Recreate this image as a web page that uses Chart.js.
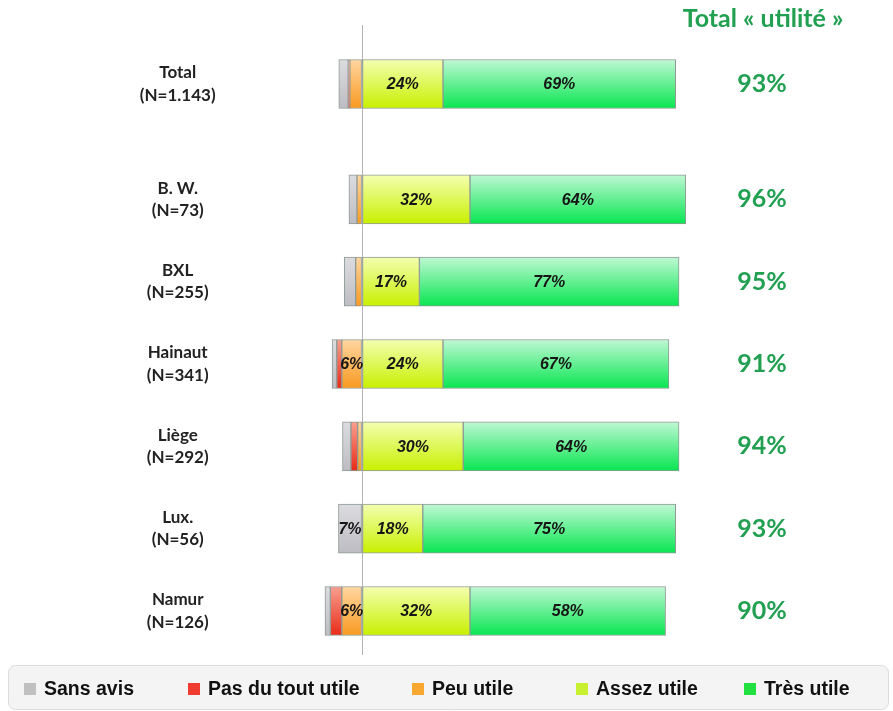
<!DOCTYPE html>
<html>
<head>
<meta charset="utf-8">
<script src="https://cdn.jsdelivr.net/npm/chart.js@4"></script>
<style>
  html, body { margin: 0; padding: 0; background: #ffffff; }
  #wrap { width: 893px; height: 711px; }
</style>
</head>
<body>
<div id="wrap"><canvas id="chart" width="893" height="711"></canvas></div>
<script>
// Regions and sample sizes
const categories  = ['Total', 'B. W.', 'BXL', 'Hainaut', 'Liège', 'Lux.', 'Namur'];
const sampleSizes = ['1.143', '73', '255', '341', '292', '56', '126'];

// Answer shares (%), negative side drawn left of the zero line
const sansAvis   = [2.8, 2.4, 3.4, 1.4, 2.5, 7, 1.6];
const pasDuTout  = [0.5, 0,   0,   1.5, 2.0, 0, 3.4];
const peuUtile   = [3.6, 1.5, 1.9, 6,   1.3, 0, 6];
const assezUtile = [24, 32, 17, 24, 30, 18, 32];
const tresUtile  = [69, 64, 77, 67, 64, 75, 58];

// "Total utilité" column
const totalUtilite = [93, 96, 95, 91, 94, 93, 90];

// Row positions on the vertical axis: the overall row sits apart from the regions
const rowPos = categories.map((_, i) => (i === 0 ? 0 : i + 0.4));

const BAR = 49;
const GREEN_TEXT = '#22a052';

function barGradient(top, bottom) {
  return (ctx) => {
    const chart = ctx.chart;
    if (!chart.chartArea || ctx.type !== 'data') return bottom;
    const cy = chart.scales.y.getPixelForValue(rowPos[ctx.dataIndex]);
    const g = chart.ctx.createLinearGradient(0, cy - BAR / 2, 0, cy + BAR / 2);
    g.addColorStop(0, top);
    g.addColorStop(1, bottom);
    return g;
  };
}

const series = [
  // stacking order: nearest to zero first
  { label: 'Peu utile',         values: peuUtile,   sign: -1, top: '#ffd6a0', bottom: '#f89a20', key: '#f8a830' },
  { label: 'Pas du tout utile', values: pasDuTout,  sign: -1, top: '#f8a090', bottom: '#e82a18', key: '#f03c30' },
  { label: 'Sans avis',         values: sansAvis,   sign: -1, top: '#dcdce0', bottom: '#bcbcc2', key: '#c0c0c0' },
  { label: 'Assez utile',       values: assezUtile, sign:  1, top: '#f4ffb0', bottom: '#c8f000', key: '#c8f030' },
  { label: 'Très utile',        values: tresUtile,  sign:  1, top: '#bff8d4', bottom: '#08e650', key: '#22e040' }
];
const legendOrder = ['Sans avis', 'Pas du tout utile', 'Peu utile', 'Assez utile', 'Très utile'];

const datasets = series.map(s => ({
  label: s.label,
  data: s.values.map((v, i) => ({ x: s.sign * v, y: rowPos[i] })),
  backgroundColor: barGradient(s.top, s.bottom),
  borderColor: '#8f9a94',
  borderWidth: 1,
  borderSkipped: false,
  barThickness: BAR,
  keyColor: s.key
}));

// Percent labels inside the larger segments
const segmentLabels = {
  id: 'segmentLabels',
  afterDatasetsDraw(chart) {
    const ctx = chart.ctx;
    ctx.save();
    ctx.font = 'italic bold 16px "Liberation Sans", Arial, sans-serif';
    ctx.fillStyle = '#161616';
    ctx.textAlign = 'center';
    ctx.textBaseline = 'middle';
    chart.data.datasets.forEach((ds, di) => {
      const meta = chart.getDatasetMeta(di);
      meta.data.forEach((bar, i) => {
        const v = Math.abs(ds.data[i].x);
        if (v < 5) return;
        const p = bar.getProps(['x', 'base', 'y'], true);
        ctx.fillText(Math.round(v) + '%', (p.x + p.base) / 2, p.y + 1);
      });
    });
    ctx.restore();
  }
};

// Right-hand "Total « utilité »" column
const totalColumn = {
  id: 'totalColumn',
  afterDraw(chart) {
    const ctx = chart.ctx;
    const colX = 762;
    ctx.save();
    ctx.fillStyle = GREEN_TEXT;
    ctx.textAlign = 'center';
    ctx.textBaseline = 'middle';
    ctx.font = 'bold 25px Lato, "Open Sans", sans-serif';
    ctx.fillText('Total « utilité »', colX + 1, 19);
    ctx.font = 'bold 25px Lato, "Open Sans", sans-serif';
    totalUtilite.forEach((v, i) => {
      ctx.fillText(v + '%', colX, chart.scales.y.getPixelForValue(rowPos[i]));
    });
    ctx.restore();
  }
};

// Legend strip along the bottom
const legendStrip = {
  id: 'legendStrip',
  afterDraw(chart) {
    const ctx = chart.ctx;
    const x0 = 8, y0 = 665, w = 880, h = 44, r = 7;
    ctx.save();
    ctx.beginPath();
    ctx.roundRect(x0 + 0.5, y0 + 0.5, w, h, r);
    ctx.fillStyle = '#f4f4f4';
    ctx.fill();
    ctx.strokeStyle = '#dcdcdc';
    ctx.lineWidth = 1;
    ctx.stroke();
    const markerX = [24, 188, 412, 576, 744];
    const cy = 689;
    ctx.font = 'bold 19.5px "Liberation Sans", Arial, sans-serif';
    ctx.textBaseline = 'middle';
    ctx.textAlign = 'left';
    legendOrder.forEach((name, k) => {
      const ds = chart.data.datasets.find(d => d.label === name);
      ctx.fillStyle = ds.keyColor;
      ctx.fillRect(markerX[k], cy - 6, 12, 12);
      ctx.fillStyle = '#111111';
      ctx.fillText(name, markerX[k] + 20, cy + 1);
    });
    ctx.restore();
  }
};

new Chart(document.getElementById('chart'), {
  type: 'bar',
  data: { datasets },
  options: {
    indexAxis: 'y',
    responsive: false,
    animation: false,
    devicePixelRatio: 1,
    layout: { padding: { top: 25, right: 160, bottom: 56, left: 0 } },
    plugins: {
      legend: { display: false },
      tooltip: { enabled: false }
    },
    scales: {
      x: {
        type: 'linear',
        stacked: true,
        min: -12,
        max: 110,
        ticks: { display: false, stepSize: 10 },
        border: { display: false },
        grid: {
          drawTicks: false,
          lineWidth: 1,
          color: (c) => (c.tick && c.tick.value === 0 ? '#b4b4b4' : 'rgba(0,0,0,0)')
        },
        afterFit: (s) => { s.height = 0; s.paddingLeft = 0; s.paddingRight = 0; }
      },
      y: {
        type: 'linear',
        stacked: true,
        reverse: true,
        offset: false,
        min: -0.717,
        max: 6.934,
        grid: { display: false, offset: false },
        border: { display: false },
        afterBuildTicks: (s) => { s.ticks = rowPos.map(v => ({ value: v })); },
        afterFit: (s) => { s.width = 321.6; s.paddingTop = 0; s.paddingBottom = 0; },
        ticks: {
          autoSkip: false,
          crossAlign: 'center',
          padding: 98,
          color: '#222222',
          font: { family: 'Lato, "Open Sans", sans-serif', size: 17, weight: 'bold', lineHeight: 1.3 },
          callback: (value, index) => [categories[index], '(N=' + sampleSizes[index] + ')']
        }
      }
    }
  },
  plugins: [segmentLabels, totalColumn, legendStrip]
});
</script>
</body>
</html>
